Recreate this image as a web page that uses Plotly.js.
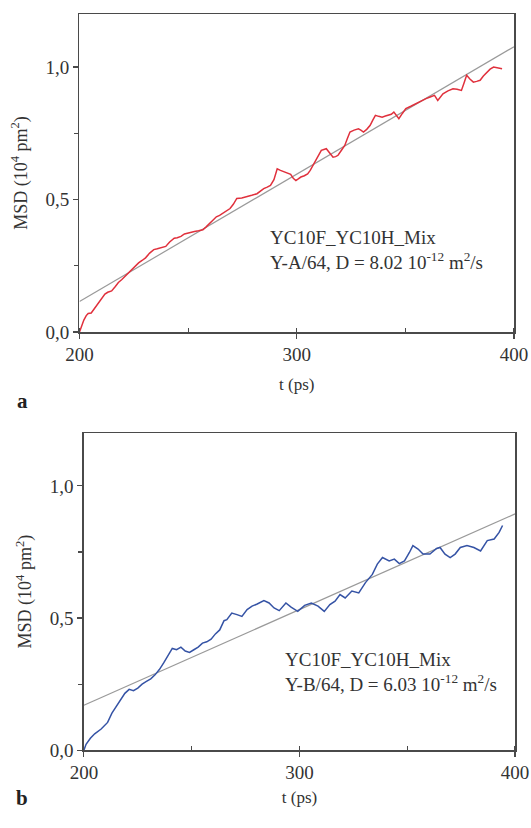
<!DOCTYPE html>
<html>
<head>
<meta charset="utf-8">
<script src="https://cdn.plot.ly/plotly-3.0.1.min.js"></script>
<style>html,body{margin:0;padding:0;background:#fff;}#chart{width:531px;height:828px;}</style>
</head>
<body>
<div id="chart"></div>
<script>
// Panel a: Y-A/64 MSD (10^4 pm^2) vs t (ps)
const tA = [200, 201, 202, 203.1, 204, 205.4, 207, 208.6, 210, 211.7, 213, 214.8, 216.5, 217.9, 219.5, 221, 222.5, 224.1, 225.5, 227.2, 228.8, 230.4, 232.3, 234.2, 235.8, 237.4, 239.7, 241.5, 243.6, 245, 246.7, 248.3, 249.8, 251.3, 252.9, 254.8, 256.8, 258.3, 259.9, 261.5, 263, 264.5, 266.1, 267.7, 269.3, 270.8, 272.4, 274.7, 277, 279.3, 281.7, 283.2, 284.8, 286.4, 287.9, 289.5, 291, 292.5, 294.1, 295.6, 297.2, 298.4, 299.6, 300.7, 301.9, 303.5, 305, 306.2, 307.4, 309.3, 311.3, 313.6, 315.1, 316.7, 317.9, 319, 320.5, 322.1, 323.3, 324.5, 326.4, 328.4, 329.5, 330.7, 332.2, 333.8, 335, 336.2, 337.7, 339.3, 340.8, 342.4, 343.5, 344.7, 345.8, 347, 348.6, 350.2, 352.5, 354.8, 357.1, 359.5, 361.4, 363.4, 364.9, 366.1, 367.3, 369.6, 371.9, 373.8, 375.8, 377, 378.2, 379.7, 381.3, 382.8, 384.4, 385.9, 387.5, 389, 390.6, 392.5, 394.5];
const msdA = [0, 0.025, 0.045, 0.062, 0.07, 0.072, 0.09, 0.11, 0.128, 0.143, 0.15, 0.155, 0.172, 0.187, 0.198, 0.211, 0.222, 0.236, 0.248, 0.261, 0.27, 0.28, 0.298, 0.311, 0.314, 0.317, 0.323, 0.34, 0.354, 0.356, 0.361, 0.37, 0.373, 0.378, 0.379, 0.382, 0.386, 0.397, 0.41, 0.424, 0.435, 0.44, 0.448, 0.455, 0.466, 0.482, 0.504, 0.506, 0.51, 0.516, 0.522, 0.533, 0.541, 0.547, 0.553, 0.575, 0.616, 0.61, 0.604, 0.6, 0.595, 0.58, 0.572, 0.578, 0.585, 0.59, 0.597, 0.61, 0.629, 0.66, 0.686, 0.692, 0.676, 0.66, 0.662, 0.667, 0.685, 0.704, 0.73, 0.755, 0.762, 0.767, 0.762, 0.755, 0.765, 0.78, 0.8, 0.818, 0.814, 0.811, 0.815, 0.818, 0.822, 0.83, 0.818, 0.805, 0.825, 0.843, 0.852, 0.862, 0.872, 0.881, 0.887, 0.893, 0.874, 0.888, 0.899, 0.91, 0.918, 0.916, 0.912, 0.94, 0.969, 0.955, 0.943, 0.946, 0.95, 0.966, 0.981, 0.992, 1.0, 0.998, 0.994];
const fitA_t = [200, 400];
const fitA_msd = [0.115, 1.077];

// Panel b: Y-B/64
const tB = [200, 201, 203, 205, 208, 211, 213, 215, 217, 219, 221, 223, 225, 227, 229, 231, 233, 235, 237, 239, 241, 243, 245, 247, 249, 251, 253, 255, 257, 259, 261, 263, 265, 266.3, 268.6, 271, 273.3, 275.7, 278, 280.4, 283.5, 285.9, 288.2, 290.6, 293.7, 296.1, 299.2, 302.4, 305.5, 308.6, 311.5, 314.1, 316.5, 318.8, 321.2, 324.3, 327.5, 330.6, 333.8, 336.1, 338.5, 341.6, 344, 346.3, 348.7, 351, 352.6, 355, 357.3, 360.5, 363.6, 365.2, 367.5, 369.9, 372.2, 374.6, 377.7, 380.9, 384, 387.1, 390.3, 392.6, 394.2];
const msdB = [0, 0.022, 0.045, 0.062, 0.08, 0.105, 0.14, 0.165, 0.19, 0.215, 0.23, 0.225, 0.235, 0.25, 0.26, 0.27, 0.285, 0.305, 0.33, 0.36, 0.385, 0.38, 0.39, 0.375, 0.37, 0.38, 0.39, 0.405, 0.41, 0.42, 0.44, 0.455, 0.49, 0.494, 0.519, 0.513, 0.506, 0.532, 0.545, 0.553, 0.566, 0.557, 0.538, 0.528, 0.557, 0.541, 0.525, 0.548, 0.557, 0.545, 0.525, 0.551, 0.564, 0.589, 0.576, 0.602, 0.595, 0.634, 0.665, 0.704, 0.729, 0.716, 0.723, 0.706, 0.716, 0.748, 0.774, 0.761, 0.742, 0.742, 0.763, 0.767, 0.742, 0.729, 0.742, 0.767, 0.774, 0.767, 0.754, 0.793, 0.799, 0.824, 0.85];
const fitB_t = [200, 400];
const fitB_msd = [0.17, 0.894];

const yTicks = [0, 0.5, 1.0];
const xTicks = [200, 300, 400];
const labelA = 'YC10F_YC10H_Mix<br>Y-A/64, D = 8.02 10<sup>-12</sup> m<sup>2</sup>/s';
const labelB = 'YC10F_YC10H_Mix<br>Y-B/64, D = 6.03 10<sup>-12</sup> m<sup>2</sup>/s';
const yTitle = 'MSD (10<sup>4</sup> pm<sup>2</sup>)';
const xTitle = 't (ps)';

const FONT = 'Liberation Serif';
const axisCol = '#4a4a4a';

const traces = [
  {x: fitA_t, y: fitA_msd, xaxis: 'x', yaxis: 'y', mode: 'lines', line: {color: '#9a9a9a', width: 1.2}, hoverinfo: 'skip'},
  {x: tA, y: msdA, xaxis: 'x', yaxis: 'y', mode: 'lines', line: {color: '#e0303c', width: 1.5}},
  {x: fitB_t, y: fitB_msd, xaxis: 'x2', yaxis: 'y2', mode: 'lines', line: {color: '#9a9a9a', width: 1.2}, hoverinfo: 'skip'},
  {x: tB, y: msdB, xaxis: 'x2', yaxis: 'y2', mode: 'lines', line: {color: '#3553a5', width: 1.5}}
];

function xAxis(domain, anchor, standoff) {
  return {
    domain: domain, anchor: anchor, range: [200, 400], tickvals: xTicks,
    ticks: 'outside', ticklen: 5, tickwidth: 1.2, tickcolor: axisCol,
    minor: {dtick: 50, tick0: 200, ticks: 'inside', ticklen: 4, tickcolor: axisCol, showgrid: false},
    showline: true, linecolor: axisCol, linewidth: 1.5, mirror: true,
    showgrid: false, zeroline: false,
    tickfont: {family: FONT, size: 19, color: '#333'},
    title: {text: xTitle, font: {family: FONT, size: 17, color: '#333'}, standoff: standoff}
  };
}
function yAxis(domain, anchor) {
  return {
    domain: domain, anchor: anchor, range: [0, 1.2], tickvals: yTicks, tickformat: '.1f',
    ticks: 'outside', ticklen: 5, tickwidth: 1.2, tickcolor: axisCol,
    minor: {dtick: 0.25, tick0: 0, ticks: 'outside', ticklen: 4, tickcolor: axisCol, showgrid: false},
    showline: true, linecolor: axisCol, linewidth: 1.5, mirror: true,
    showgrid: false, zeroline: false,
    tickfont: {family: FONT, size: 19, color: '#333'},
    title: {text: yTitle, font: {family: FONT, size: 18, color: '#333'}, standoff: 13}
  };
}

const layout = {
  width: 531, height: 828, autosize: false,
  margin: {l: 0, r: 0, t: 0, b: 0},
  paper_bgcolor: '#fff', plot_bgcolor: '#fff',
  showlegend: false,
  separators: ',.',
  font: {family: FONT, color: '#333'},
  xaxis: xAxis([0.1497, 0.968], 'y', 14),
  yaxis: yAxis([0.599, 0.983], 'x'),
  xaxis2: xAxis([0.158, 0.970], 'y2', 8),
  yaxis2: yAxis([0.094, 0.477], 'x2'),
  annotations: [
    {xref: 'paper', yref: 'paper', x: 268/531, y: 1 - 250/828, xanchor: 'left', yanchor: 'middle', align: 'left', showarrow: false,
     text: labelA, font: {family: FONT, size: 19, color: '#333'}},
    {xref: 'paper', yref: 'paper', x: 283/531, y: 1 - 672/828, xanchor: 'left', yanchor: 'middle', align: 'left', showarrow: false,
     text: labelB, font: {family: FONT, size: 19, color: '#333'}},
    {xref: 'paper', yref: 'paper', x: 22/531, y: 1 - 401/828, xanchor: 'center', yanchor: 'middle', showarrow: false,
     text: '<b>a</b>', font: {family: FONT, size: 21, color: '#222'}},
    {xref: 'paper', yref: 'paper', x: 22/531, y: 1 - 798/828, xanchor: 'center', yanchor: 'middle', showarrow: false,
     text: '<b>b</b>', font: {family: FONT, size: 21, color: '#222'}}
  ]
};

Plotly.newPlot('chart', traces, layout, {displayModeBar: false, staticPlot: true});
</script>
</body>
</html>
